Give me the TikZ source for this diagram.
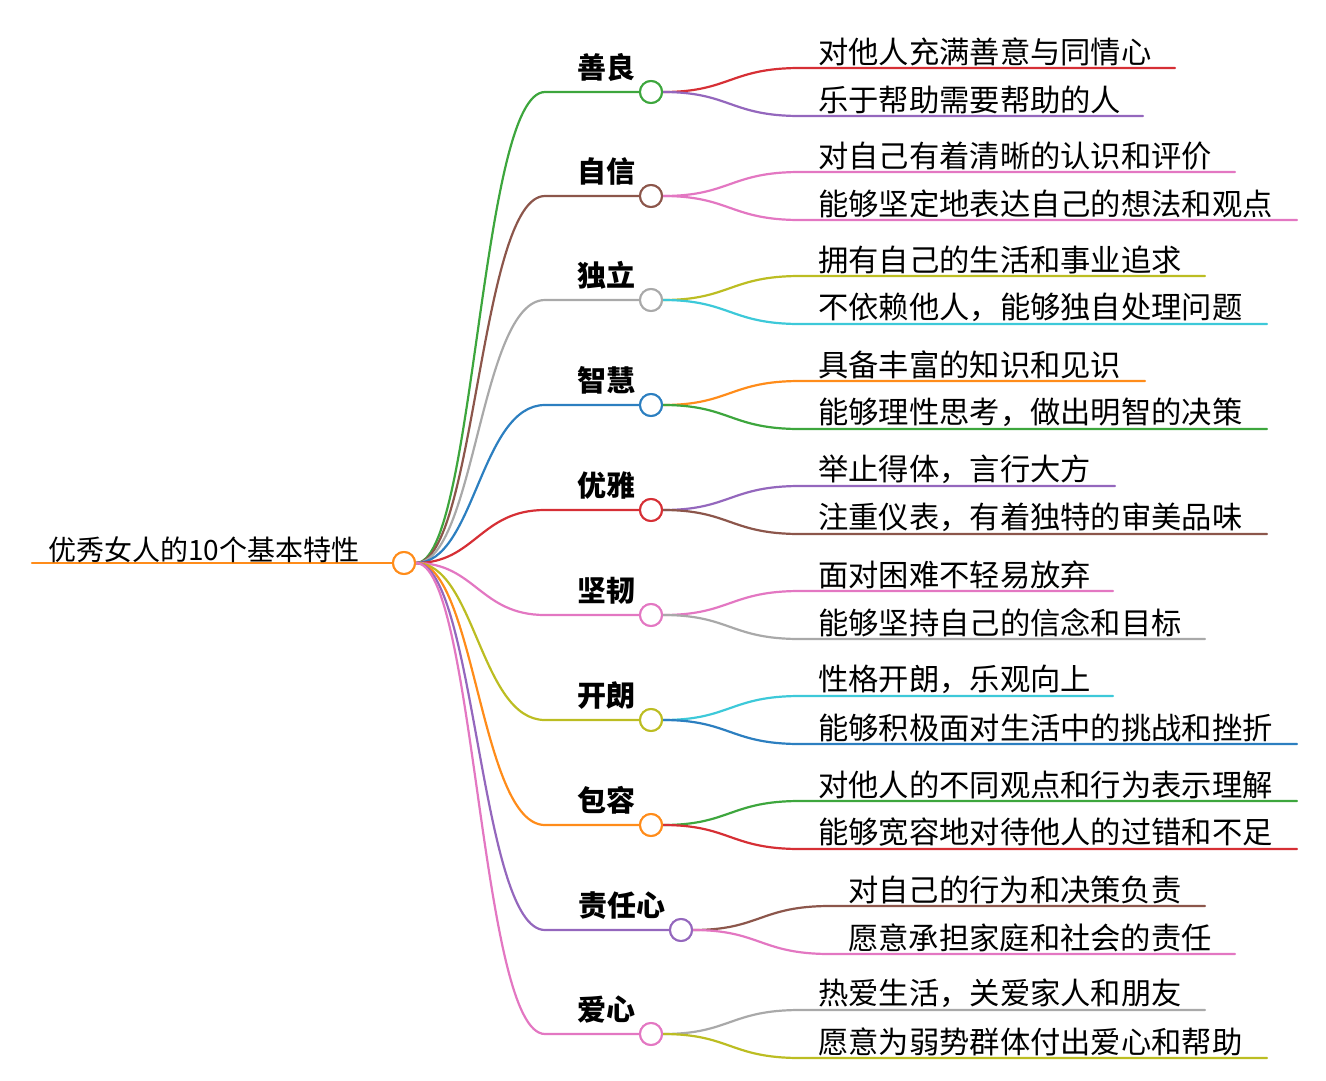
\documentclass[tikz,border=0pt]{standalone}
\usepackage{fontspec}
\setmainfont{Noto Sans CJK SC}
\definecolor{cGreen}{HTML}{3DA63D}
\definecolor{cBrown}{HTML}{8C564B}
\definecolor{cGray}{HTML}{A9A9A9}
\definecolor{cBlue}{HTML}{2C7FC0}
\definecolor{cRed}{HTML}{D62F35}
\definecolor{cPink}{HTML}{E377C2}
\definecolor{cOlive}{HTML}{BCBD22}
\definecolor{cOrange}{HTML}{FF8C1A}
\definecolor{cPurple}{HTML}{9467BD}
\definecolor{cCyan}{HTML}{3DC9D9}
\tikzset{ln/.style={line width=2.2pt,line cap=round},
 dot/.style={circle,draw,line width=2pt,fill=white,minimum size=22pt,inner sep=0pt},
 blab/.style={anchor=south east,font=\fontsize{29}{30}\selectfont\bfseries,inner sep=2pt},
 llab/.style={anchor=south west,font=\fontsize{30.3}{31}\selectfont,inner sep=2pt}}
\begin{document}
\begin{tikzpicture}[x=1pt,y=-1pt]
\useasboundingbox (0,0) rectangle (1326,1080);
\draw[ln,cOrange] (32,563) -- (393,563);
\node[llab,anchor=south west,font=\fontsize{28}{30}\selectfont] (root) at (46,565) {优秀女人的10个基本特性};
\node[dot,draw=cOrange] (r) at (404,563) {};
\foreach \n/\y/\cx/\col/\t/\ta/\ca/\ea/\tb/\cb/\eb/\tx in {
 a/92/651/cGreen/善良/对他人充满善意与同情心/cRed/1175/乐于帮助需要帮助的人/cPurple/1143/820,
 b/196/651/cBrown/自信/对自己有着清晰的认识和评价/cPink/1235/能够坚定地表达自己的想法和观点/cPink/1297/820,
 c/300/651/cGray/独立/拥有自己的生活和事业追求/cOlive/1205/不依赖他人，能够独自处理问题/cCyan/1267/820,
 d/405/651/cBlue/智慧/具备丰富的知识和见识/cOrange/1145/能够理性思考，做出明智的决策/cGreen/1267/820,
 e/510/651/cRed/优雅/举止得体，言行大方/cPurple/1115/注重仪表，有着独特的审美品味/cBrown/1267/820,
 f/615/651/cPink/坚韧/面对困难不轻易放弃/cPink/1113/能够坚持自己的信念和目标/cGray/1205/820,
 g/720/651/cOlive/开朗/性格开朗，乐观向上/cCyan/1113/能够积极面对生活中的挑战和挫折/cBlue/1297/820,
 h/825/651/cOrange/包容/对他人的不同观点和行为表示理解/cGreen/1297/能够宽容地对待他人的过错和不足/cRed/1297/820,
 i/930/681/cPurple/责任心/对自己的行为和决策负责/cBrown/1205/愿意承担家庭和社会的责任/cPink/1235/850,
 j/1034/651/cPink/爱心/热爱生活，关爱家人和朋友/cGray/1205/愿意为弱势群体付出爱心和帮助/cOlive/1267/820} {
 \node[dot,draw=\col] (\n) at (\cx,\y) {};
 \coordinate (\n s) at (545,\y);
 \draw[ln,\col] (r.east) .. controls (475,563) and (480,\y) .. (\n s) -- (\n.west);
 \node[blab] (\n t) at ([xshift=-5pt,yshift=0pt]\n.north west) {\t};
 \coordinate (\n a1) at (\tx-20,\y-24); \coordinate (\n a2) at (\ea,\y-24);
 \coordinate (\n b1) at (\tx-20,\y+24); \coordinate (\n b2) at (\eb,\y+24);
 \draw[ln,\ca] (\n.east) .. controls (\tx-90,\y) and (\tx-90,\y-24) .. (\n a1) -- (\n a2);
 \draw[ln,\cb] (\n.east) .. controls (\tx-90,\y) and (\tx-90,\y+24) .. (\n b1) -- (\n b2);
 \node[dot,draw=\col] at (\n) {};
 \node[llab] (\n la) at (\tx-4,\y-24) {\ta};
 \node[llab] (\n lb) at (\tx-4,\y+24) {\tb};
}
\node[dot,draw=cOrange] at (r) {};
\end{tikzpicture}
\end{document}
